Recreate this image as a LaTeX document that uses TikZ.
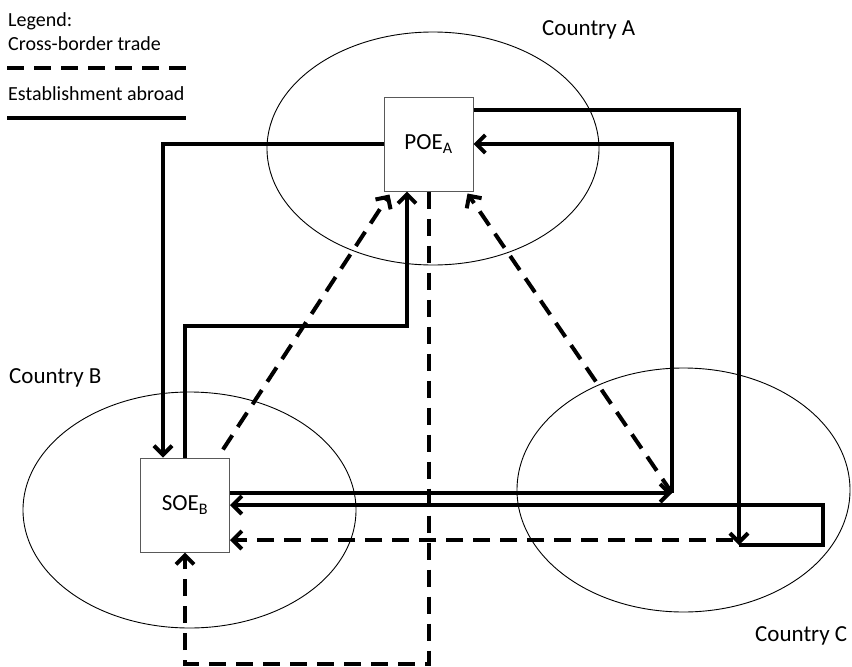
\documentclass[tikz,border=0pt]{standalone}
\usepackage{fontspec}
\setmainfont{Carlito}
\usetikzlibrary{positioning, arrows.meta, shapes.geometric}

\begin{document}
\begin{tikzpicture}[x=1pt, y=-1pt, >={Straight Barb[length=9pt,width=18pt]},
            country/.style = {draw, ellipse, line width=0.9pt, inner sep=0pt},
            firm/.style = {draw=black!65, line width=1pt, fill=white, minimum width=89pt, minimum height=94pt, font=\fontsize{23}{28}\selectfont},
            ctrytext/.style = {anchor=base west, inner sep=0pt, font=\fontsize{23}{28}\selectfont},
            legendtext/.style = {anchor=base west, inner sep=0pt, font=\fontsize{20}{24}\selectfont},
            estab/.style = {line width=4pt},
            trade/.style = {line width=4pt, dash pattern=on 17pt off 10pt}]
            \useasboundingbox (0,0) rectangle (852,667);
            % countries
            \node[country, minimum width=332pt, minimum height=233pt] (A) at (433,148.5) {};
            \node[country, minimum width=333pt, minimum height=236pt] (B) at (189.5,510) {};
            \node[country, minimum width=333pt, minimum height=244pt] (C) at (683.5,490) {};
            \node[ctrytext] (nameA) at (542,35) {Country A};
            \node[ctrytext] (nameB) at (9,383) {Country B};
            \node[ctrytext] (nameC) at (755,641) {Country C};
            % firms
            \node[firm] (poe) at (428.5,144) {POE\textsubscript{A}};
            \node[firm] (soe) at (185,505) {SOE\textsubscript{B}};
            \coordinate (hubC) at (672,493);
            \coordinate (landC) at (739,545);
            % legend
            \node[legendtext] (lgd) at (8,26) {Legend:};
            \node[legendtext] (lgtrade) at (8,50) {Cross-border trade};
            \node[legendtext] (lgest) at (8,100) {Establishment abroad};
            \draw[trade] (7,68) -- (186,68);
            \draw[estab] (7,118) -- (186,118);
            % between A and B
            \draw[estab,->] (poe.west) -| ([xshift=-22pt]soe.north);
            \draw[estab,->] (soe.north) -- ++(0,-132) -| ([xshift=-21.5pt]poe.south);
            \draw[trade,->] ([xshift=-7pt,yshift=8pt]soe.north east) -- ([xshift=6pt,yshift=-3pt]poe.south west);
            \draw[trade,->] (poe.south) -- ++(0,472) -| (soe.south);
            % B to C to A
            \draw[estab,->] ([yshift=12pt]soe.east) -- (hubC);
            \draw[estab,->] (hubC) |- (poe.east);
            \draw[trade,->] (hubC) -- ([xshift=-6pt,yshift=-2pt]poe.south east);
            % A to C to B
            \draw[estab,->] ([yshift=34pt]poe.east) -| (landC);
            \draw[estab,->] (landC) -- ++(84,0) |- (soe.east);
            \draw[trade,->] ([xshift=-6pt,yshift=5pt]landC) -- ([yshift=-35pt]soe.east);
        \end{tikzpicture}
\end{document}
